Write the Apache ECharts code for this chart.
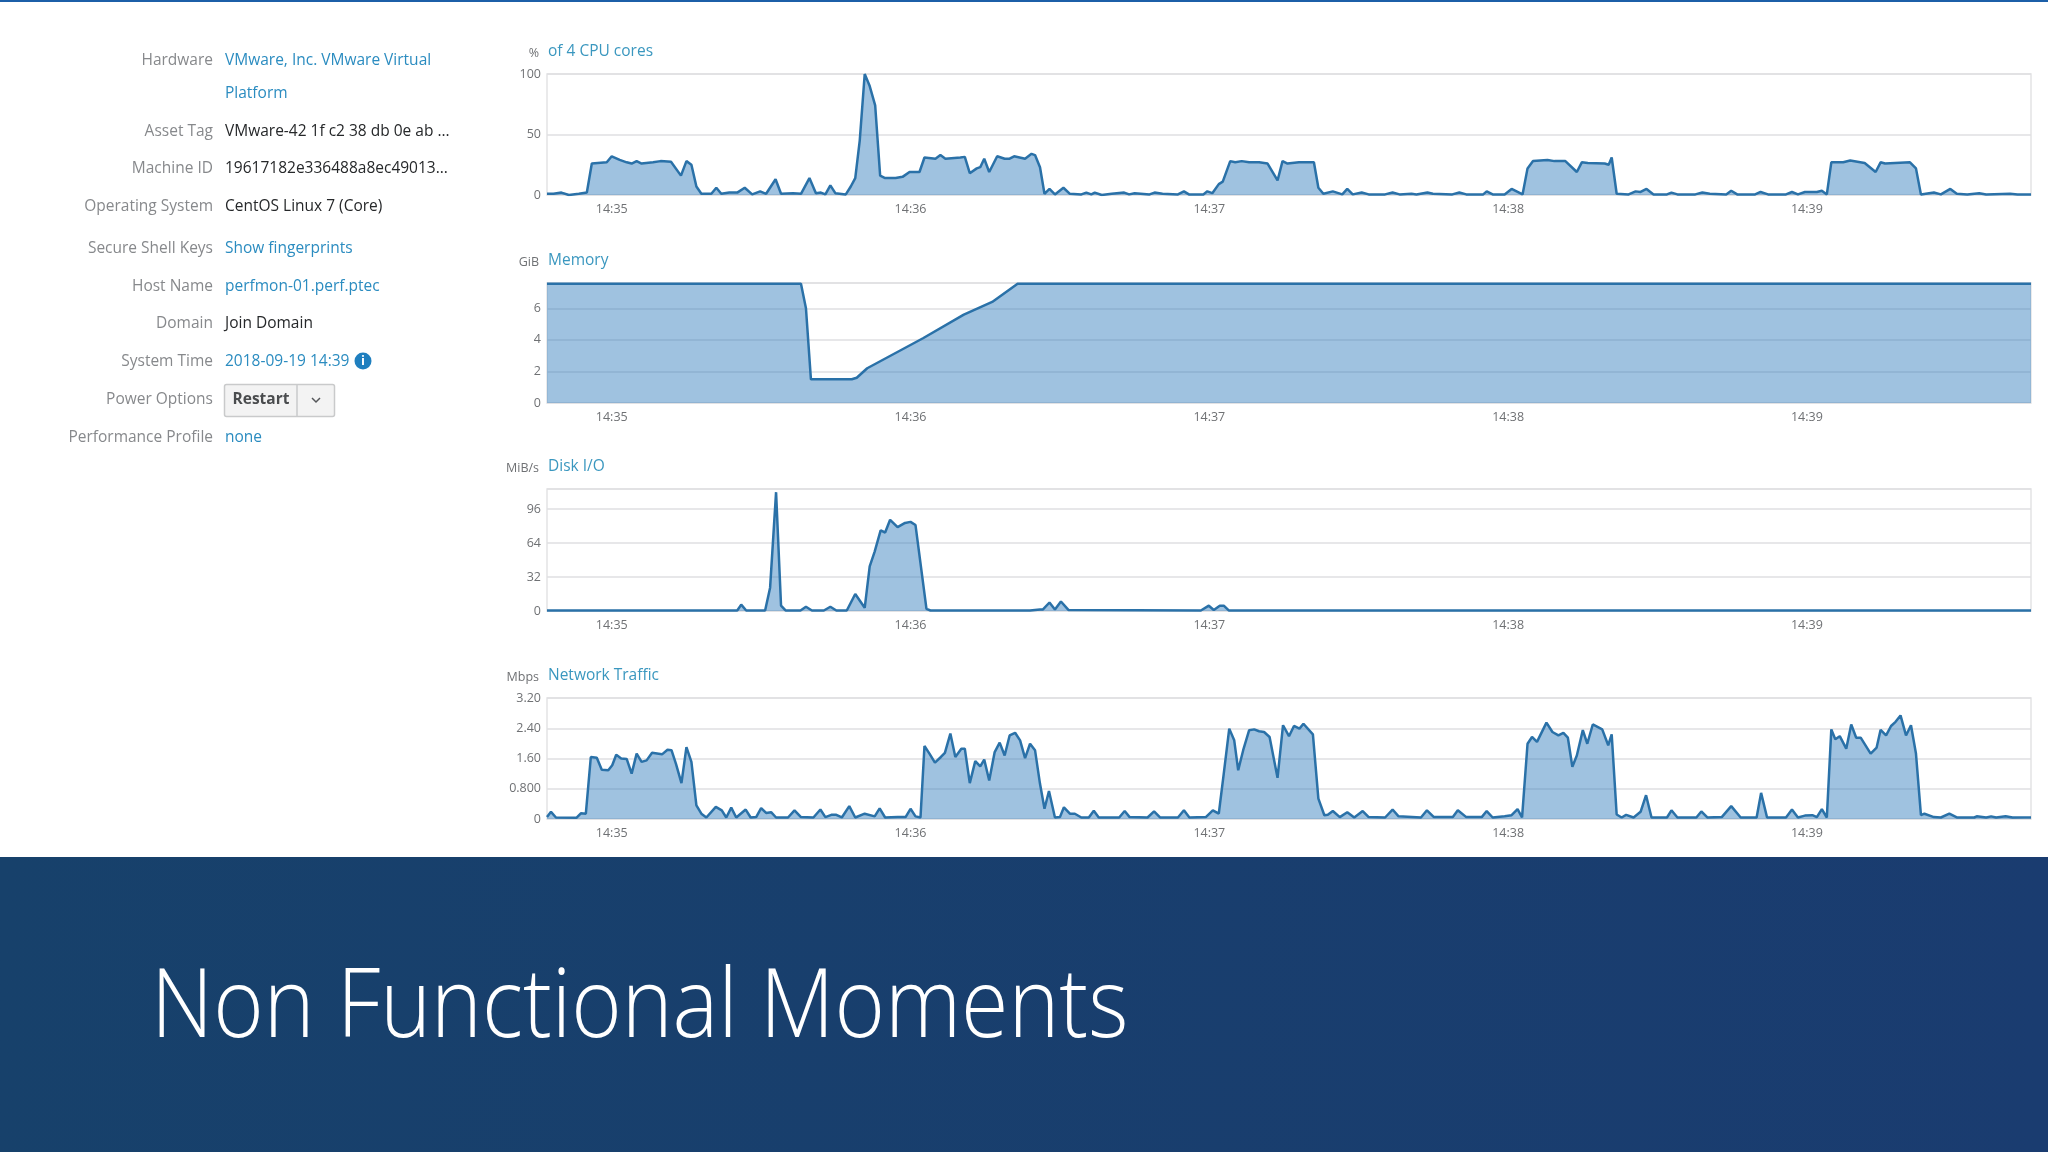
<!DOCTYPE html>
<html>
<head>
<meta charset="utf-8">
<title>Non Functional Moments</title>
<script src="https://cdn.jsdelivr.net/npm/echarts@6/dist/echarts.min.js"></script>
<style>
html, body { margin: 0; padding: 0; background: #fff; }
#main { width: 2048px; height: 1152px; }
</style>
</head>
<body>
<div id="main"></div>
<script>
'use strict';

// seconds since the left edge of the plots (14:34:47)
var tickSeconds = [13, 73, 133, 193, 253];
var tickLabels = ['14:35', '14:36', '14:37', '14:38', '14:39'];

var cpuTimes = [0, 1.3, 2.9, 4.4, 6.4, 8, 9, 12, 13, 14.6, 16, 17, 18, 19, 21.3, 22.8, 24.9, 26.9, 28, 29, 30, 31, 33, 34, 35, 36.6, 38.2, 39.7, 41.2, 42.8, 44, 45.9, 47, 49.4, 51, 52.7, 54, 55, 55.9, 56.9, 57.9, 60, 61, 61.9, 62.8, 63.8, 64.8, 65.9, 66.9, 67.9, 70, 71.4, 72.8, 74.8, 75.8, 78, 79, 80, 83, 83.9, 84.9, 86.3, 87, 87.8, 88.8, 90.4, 91.9, 92.9, 93.8, 96, 97.3, 98, 99, 99.9, 100.9, 102, 103.7, 105, 107.3, 108.3, 109.3, 110, 111.4, 113.4, 115.9, 116.9, 118, 121, 122, 123.6, 126.7, 127.9, 128.9, 131.8, 132.6, 133.6, 134.9, 135.7, 137.2, 138.2, 139.5, 141, 143, 144.7, 146.7, 147.7, 148.7, 151, 154, 154.9, 155.9, 157.8, 159.7, 160.7, 161.8, 163.6, 165, 168.3, 169.8, 171.2, 173.6, 174.6, 176.8, 177.9, 181.8, 183.2, 184.6, 188, 188.7, 189.9, 192.3, 193.7, 195.9, 196.9, 198, 200.9, 202.3, 204.5, 206.8, 207.8, 209, 212.4, 213.2, 213.8, 214.8, 217.2, 218.6, 219.6, 220.8, 222.2, 224.9, 225.8, 227, 230.6, 232, 233.5, 236.8, 237.8, 239, 242.6, 243.7, 245.2, 248.8, 250, 251.2, 252.6, 255, 256, 257, 257.9, 260.3, 261.7, 264.6, 266.8, 267.8, 268.7, 273.7, 274.9, 275.9, 278.5, 279.9, 281.8, 283.1, 285.2, 287.6, 289, 293.8, 295.3, 298];
var cpuValues = [1, 1, 2, 0, 1, 2, 26, 27, 32, 29, 27, 26, 28, 26, 27, 28, 27.5, 16, 28, 25, 7, 1, 1, 6, 1, 2, 2, 6, 0.5, 3, 1, 13, 1, 1.5, 1, 14, 1.5, 2, 0.5, 8, 1.5, 0.5, 7, 14, 45, 100, 90, 74, 16, 14, 14, 15, 19, 19, 31, 30, 33, 30, 31, 31.5, 18, 22, 23, 30, 19, 32, 30, 30, 32, 30, 34, 33, 23, 1, 5, 0.5, 6, 1, 0.5, 2, 0.5, 2, 0, 1, 2, 0.5, 1.5, 0.5, 2, 1, 0.5, 3, 0.5, 0.5, 3, 1.5, 9, 11, 28, 27, 28, 27, 27, 26, 12, 28, 26, 27, 27, 6, 1, 3, 0.5, 5, 0.5, 2, 0.5, 0.5, 2, 0.5, 1, 0.5, 2, 1, 0.5, 2, 0.5, 0.5, 3, 0.5, 0.5, 5, 0.5, 22, 28, 29, 28, 28, 19, 27, 26.5, 26, 25, 31, 1, 0.5, 3, 2.5, 5, 0.5, 0.5, 2, 0.5, 0.5, 2, 1, 0.5, 3.5, 0.5, 0.5, 2.5, 0.5, 0.5, 2.5, 0.5, 2.5, 2.5, 3.5, 0.5, 27, 27, 28.5, 26.5, 19, 27, 26, 27, 22, 0.5, 2, 0.5, 5, 1, 0.5, 1.5, 0.5, 1, 0.5, 0.5];

var memoryTimes = [0, 51, 52, 53, 61.2, 62.2, 64.3, 75.5, 83.7, 89.4, 94.5, 298];
var memoryValues = [7.55, 7.55, 6, 1.5, 1.5, 1.6, 2.2, 4.1, 5.6, 6.4, 7.55, 7.55];

var diskTimes = [0, 38.2, 39, 40, 43.8, 44.8, 46, 47, 47.9, 50.9, 52, 53.2, 55.6, 56.9, 58.1, 60.2, 61.9, 63.8, 64.8, 65.8, 67, 67.9, 68.9, 70.4, 71.9, 73, 74, 76.2, 77, 97, 99, 99.6, 100.9, 102, 103.2, 104.7, 131.3, 132.9, 133.9, 135.1, 135.9, 136.9, 298];
var diskValues = [0.5, 0.5, 6, 0.5, 0.5, 22, 112, 5, 0.5, 0.5, 4, 0.5, 0.5, 4, 0.5, 0.5, 16, 3, 42, 56, 76, 74, 86, 79, 83, 84, 81, 2, 0.5, 0.5, 1.5, 1.5, 8, 1.5, 9, 1, 0.5, 5, 1, 5, 5, 0.5, 0.5];

var networkTimes = [0, 0.8, 1.8, 5.9, 6.8, 7.8, 8.8, 10, 11, 12.3, 13.1, 13.9, 14.9, 16, 17, 18, 19, 20, 21.1, 23.1, 24.2, 25, 25.9, 27, 28, 29, 30, 31, 32, 33.9, 35.1, 36, 37, 38, 39.9, 40.9, 42, 43, 44, 45, 46, 48.4, 49.7, 51, 53.5, 54.9, 55.9, 57.1, 58.1, 59.2, 60.7, 61.9, 63.8, 65.8, 66.8, 67.9, 70.4, 72, 73, 74, 75, 75.8, 76.8, 77.9, 79.1, 79.9, 81, 82, 83.2, 83.9, 84.9, 86, 87, 87.8, 88.8, 89.9, 90.9, 91.9, 92.9, 94, 95, 96, 97, 98, 99, 99.9, 100.8, 102, 103, 103.8, 105, 106, 107.3, 108.8, 109.8, 110.8, 114.9, 116, 117, 120.6, 121.9, 123.1, 126.7, 127.9, 129, 132.3, 133.7, 134.9, 135.9, 137, 138, 138.8, 139.8, 141, 142, 143, 144, 145.1, 146.7, 147.8, 149, 150, 151.1, 151.9, 153.8, 154.9, 156.1, 156.8, 157.8, 159.2, 160.7, 162.1, 163.8, 165, 168.3, 169.8, 171, 175.5, 176.7, 178.1, 181.9, 182.9, 184.6, 187.7, 188.7, 189.9, 192.3, 193.7, 194.9, 195.8, 196.9, 197.8, 198.8, 200.7, 201.9, 203.1, 204.1, 205, 205.9, 206.8, 208, 208.9, 210, 211.9, 213.1, 213.8, 214.8, 215.8, 216.7, 218.2, 219.6, 220.7, 221.8, 224.9, 225.8, 227, 230.8, 231.8, 233, 235.9, 237.8, 239.7, 242.9, 243.8, 245, 248.8, 250, 251.2, 252.6, 254.1, 255, 256, 257, 257.9, 258.7, 259.6, 260.9, 261.9, 262.9, 263.8, 265.8, 267, 267.8, 268.9, 269.9, 270.8, 271.8, 272.9, 273.9, 274.9, 275.9, 276.6, 278.5, 279.9, 281.6, 283.1, 286.6, 287.1, 289, 290, 291, 292.9, 294.3, 298];
var networkValues = [0.05, 0.19, 0.04, 0.03, 0.15, 0.14, 1.64, 1.62, 1.3, 1.29, 1.42, 1.7, 1.6, 1.59, 1.2, 1.73, 1.51, 1.55, 1.75, 1.71, 1.83, 1.82, 1.46, 0.95, 1.9, 1.51, 0.36, 0.14, 0.04, 0.32, 0.23, 0.04, 0.3, 0.04, 0.25, 0.04, 0.05, 0.29, 0.16, 0.18, 0.04, 0.04, 0.23, 0.05, 0.04, 0.25, 0.05, 0.11, 0.11, 0.04, 0.34, 0.04, 0.14, 0.07, 0.28, 0.04, 0.05, 0.05, 0.27, 0.07, 0.04, 1.93, 1.73, 1.49, 1.64, 1.75, 2.26, 1.64, 1.86, 1.86, 0.95, 1.53, 1.39, 1.57, 1.02, 1.77, 2.02, 1.68, 2.21, 2.28, 2.08, 1.61, 1.99, 1.82, 0.93, 0.27, 0.74, 0.04, 0.05, 0.31, 0.14, 0.14, 0.04, 0.04, 0.22, 0.04, 0.04, 0.21, 0.05, 0.04, 0.2, 0.04, 0.04, 0.23, 0.04, 0.05, 0.23, 0.14, 1.2, 2.39, 2.08, 1.29, 1.82, 2.35, 2.37, 2.32, 2.3, 2.17, 1.09, 2.48, 2.19, 2.46, 2.39, 2.52, 2.24, 0.54, 0.1, 0.11, 0.21, 0.05, 0.18, 0.04, 0.21, 0.05, 0.04, 0.25, 0.07, 0.04, 0.23, 0.05, 0.05, 0.23, 0.05, 0.05, 0.21, 0.04, 0.07, 0.1, 0.26, 0.04, 1.99, 2.17, 2.04, 2.55, 2.3, 2.21, 2.28, 2.15, 1.38, 1.68, 2.35, 1.99, 2.5, 2.37, 1.95, 2.24, 0.12, 0.04, 0.11, 0.04, 0.19, 0.63, 0.04, 0.04, 0.23, 0.04, 0.04, 0.2, 0.04, 0.05, 0.34, 0.04, 0.04, 0.69, 0.04, 0.04, 0.25, 0.04, 0.09, 0.1, 0.05, 0.26, 0.04, 2.37, 2.11, 2.19, 1.86, 2.5, 2.15, 2.15, 1.73, 1.89, 2.36, 2.21, 2.46, 2.57, 2.74, 2.21, 2.48, 1.73, 0.1, 0.14, 0.05, 0.04, 0.14, 0.04, 0.04, 0.07, 0.04, 0.07, 0.04, 0.07, 0.04, 0.04];

var infoLabels = ['Hardware', 'Asset Tag', 'Machine ID', 'Operating System', 'Secure Shell Keys', 'Host Name', 'Domain', 'System Time', 'Power Options', 'Performance Profile'];
var infoValues = ['VMware, Inc. VMware Virtual', 'VMware-42 1f c2 38 db 0e ab ...', '19617182e336488a8ec49013...', 'CentOS Linux 7 (Core)', 'Show fingerprints', 'perfmon-01.perf.ptec', 'Join Domain', '2018-09-19 14:39', 'Restart', 'none'];
var infoIsLink = [true, false, false, false, true, true, false, true, false, true];
var infoRowY = [60.5, 131.5, 169, 206.5, 248.5, 286.5, 323.5, 361.5, 399.5, 438];

var chartTitles = ['of 4 CPU cores', 'Memory', 'Disk I/O', 'Network Traffic'];
var chartUnits = ['%', 'GiB', 'MiB/s', 'Mbps'];
var chartTops = [74, 283, 489, 698];
var chartHeights = [121, 120, 122, 121];
var chartMax = [100, 7.6, 115, 3.2];
var chartInterval = [50, 2, 32, 0.8];
var networkTickLabels = { 0: '0', 0.8: '0.800', 1.6: '1.60', 2.4: '2.40', 3.2: '3.20' };

var chartTimes = [cpuTimes, memoryTimes, diskTimes, networkTimes];
var chartValues = [cpuValues, memoryValues, diskValues, networkValues];

var GREY_TEXT = '#87898c';
var LINK_TEXT = '#2b8cc0';
var TICK_TEXT = '#6f7174';
var FONT = '"Open Sans", sans-serif';

function zipPoints(times, values) {
    var points = [];
    for (var i = 0; i < times.length; i++) {
        points.push([times[i], values[i]]);
    }
    return points;
}

function textItem(x, y, text, size, color, align, weight) {
    return {
        type: 'text',
        x: x,
        y: y,
        silent: true,
        style: {
            text: text,
            fontFamily: FONT,
            fontSize: size,
            fontWeight: weight || 'normal',
            fill: color,
            align: align || 'left',
            verticalAlign: 'middle'
        }
    };
}

function buildGraphics() {
    var items = [];

    // top rule and bottom banner
    items.push({ type: 'rect', z: -1, shape: { x: 0, y: 0, width: 2048, height: 2 }, style: { fill: '#1c5fa8' } });
    items.push({
        type: 'rect', z: -1, shape: { x: 0, y: 857, width: 2048, height: 295 },
        style: {
            fill: {
                type: 'linear', x: 0, y: 0, x2: 1, y2: 0.3,
                colorStops: [{ offset: 0, color: '#17416b' }, { offset: 1, color: '#1a3c70' }]
            }
        }
    });
    // narrowed a bit to get the reference width at its cap height
    items.push({
        type: 'text', x: 151, y: 1010, scaleX: 0.907, silent: true,
        style: { text: 'Non Functional Moments', fontFamily: FONT, fontWeight: 300, fontSize: 95, fill: '#ffffff', verticalAlign: 'middle' }
    });

    // left info panel
    for (var i = 0; i < infoLabels.length; i++) {
        items.push(textItem(213, infoRowY[i], infoLabels[i], 15.5, GREY_TEXT, 'right'));
        if (infoLabels[i] !== 'Power Options') {
            items.push(textItem(225, infoRowY[i], infoValues[i], 15.5, infoIsLink[i] ? LINK_TEXT : '#26282a'));
        }
    }
    items.push(textItem(225, 94, 'Platform', 15.5, LINK_TEXT));

    // info icon
    items.push({ type: 'circle', shape: { cx: 363, cy: 361, r: 8.5 }, style: { fill: '#1f7fbf' } });
    items.push(textItem(363, 361, 'i', 13, '#ffffff', 'center', 'bold'));

    // restart button
    items.push({ type: 'rect', shape: { x: 224.5, y: 384.5, width: 110, height: 32, r: 2 }, style: { fill: '#f3f3f3', stroke: '#c9cacb', lineWidth: 1.5 } });
    items.push({ type: 'line', shape: { x1: 297, y1: 385, x2: 297, y2: 416 }, style: { stroke: '#c9cacb', lineWidth: 1.5 } });
    items.push(textItem(261, 400, 'Restart', 15.5, '#4a4c4e', 'center', 'bold'));
    items.push({ type: 'polyline', shape: { points: [[312, 398], [316, 402], [320, 398]] }, style: { fill: 'none', stroke: '#55575a', lineWidth: 1.5 } });

    // titles above each plot
    for (var c = 0; c < chartTitles.length; c++) {
        items.push(textItem(548, chartTops[c] - 22, chartTitles[c], 15.5, '#3a97bf'));
        items.push(textItem(539, chartTops[c] - 21, chartUnits[c], 12.5, TICK_TEXT, 'right'));
    }
    return items;
}

function buildGrids() {
    return chartTops.map(function (top, i) {
        return {
            show: true,
            left: 547,
            width: 1484,
            top: top,
            height: chartHeights[i],
            backgroundColor: 'transparent',
            borderColor: '#e3e3e5',
            borderWidth: 1.5
        };
    });
}

function buildXAxes() {
    return chartTops.map(function (top, i) {
        return {
            type: 'value',
            gridIndex: i,
            min: 0,
            max: 298,
            axisLine: { show: false },
            axisTick: { show: false },
            splitLine: { show: false },
            axisLabel: {
                customValues: tickSeconds,
                color: TICK_TEXT,
                fontFamily: FONT,
                fontSize: 12.5,
                margin: 8,
                formatter: function (value) {
                    return tickLabels[tickSeconds.indexOf(value)];
                }
            }
        };
    });
}

function buildYAxes() {
    return chartTops.map(function (top, i) {
        return {
            type: 'value',
            gridIndex: i,
            min: 0,
            max: chartMax[i],
            interval: chartInterval[i],
            axisLine: { show: false },
            axisTick: { show: false },
            splitLine: { show: true, lineStyle: { color: '#dfdfe2', width: 1.5 } },
            axisLabel: {
                color: TICK_TEXT,
                fontFamily: FONT,
                fontSize: 12.5,
                margin: 6,
                padding: [2, 0, 0, 0],
                showMaxLabel: i === 0 || i === 3,
                formatter: function (value) {
                    if (i === 3) {
                        return networkTickLabels[Math.round(value * 10) / 10];
                    }
                    return String(value);
                }
            }
        };
    });
}

function buildSeries() {
    return chartTitles.map(function (title, i) {
        return {
            name: title,
            type: 'line',
            xAxisIndex: i,
            yAxisIndex: i,
            showSymbol: false,
            smooth: false,
            data: zipPoints(chartTimes[i], chartValues[i]),
            lineStyle: { color: '#2a71a8', width: 2.5 },
            areaStyle: { color: 'rgb(50,125,190)', opacity: 0.47 }
        };
    });
}

var chart = echarts.init(document.getElementById('main'));
chart.setOption({
    animation: false,
    backgroundColor: '#ffffff',
    grid: buildGrids(),
    xAxis: buildXAxes(),
    yAxis: buildYAxes(),
    series: buildSeries(),
    graphic: { elements: buildGraphics() }
});
</script>
</body>
</html>
